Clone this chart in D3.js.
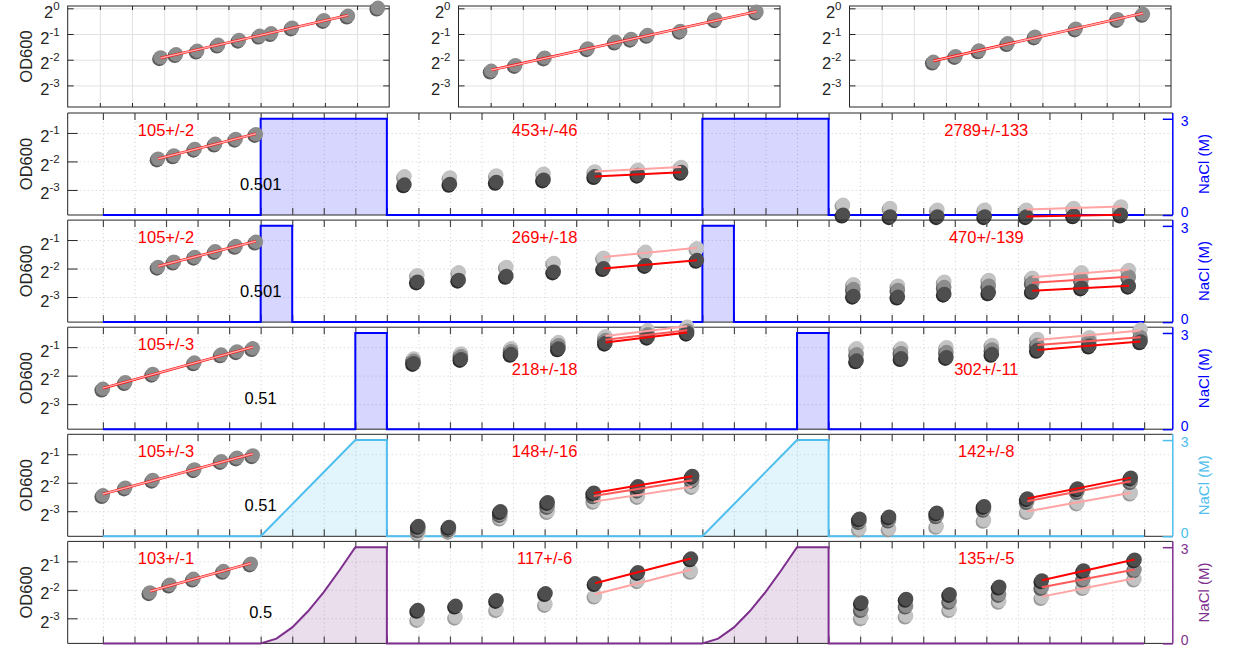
<!DOCTYPE html>
<html><head><meta charset="utf-8">
<script src="https://cdn.jsdelivr.net/npm/d3@7"></script>
<style>
body{margin:0;background:#fff;}
svg{display:block;}
svg text{font-family:"Liberation Sans",Arial,Helvetica,sans-serif;}
</style></head><body>
<svg id="chart" width="1240" height="650"></svg>
<script>
// ================= DATA =================
// Top row: three pre-culture growth curves (time in h, log2 OD600)
const topTimes = [
  [2.89,3.37,4.03,4.68,5.33,5.97,6.33,6.98,7.97,8.72,9.65],
  [1.02,1.77,2.68,4.02,4.88,5.37,5.88,6.90,7.99,9.27],
  [2.61,3.30,4.03,4.92,5.77,7.04,8.34,9.13]
];
const topLog2OD = [
  [-1.91,-1.79,-1.65,-1.42,-1.23,-1.07,-0.97,-0.75,-0.46,-0.29,0.02],
  [-2.43,-2.21,-1.92,-1.56,-1.30,-1.19,-1.04,-0.88,-0.43,-0.13],
  [-2.08,-1.86,-1.64,-1.36,-1.10,-0.79,-0.42,-0.22]
];
const topFitCount = [10,10,8];

// Five experiment rows: pre-stress segment
const preTimes = [
  [1.75,2.25,2.91,3.56,4.21,4.85],
  [1.75,2.25,2.91,3.56,4.21,4.85],
  [0.00,0.71,1.58,2.90,3.75,4.25,4.75],
  [0.00,0.71,1.58,2.90,3.75,4.25,4.75],
  [1.49,2.12,2.87,3.82,4.69]
];
const preLog2OD = [
  [-1.90,-1.79,-1.56,-1.38,-1.21,-1.04],
  [-1.94,-1.76,-1.59,-1.39,-1.21,-1.06],
  [-2.46,-2.23,-1.94,-1.54,-1.26,-1.15,-1.04],
  [-2.44,-2.17,-1.90,-1.53,-1.24,-1.12,-1.04],
  [-2.09,-1.82,-1.61,-1.34,-1.08]
];
// after first stress
const midTimes = [
  [9.56,11.00,12.47,13.97,15.59,16.96,18.33],
  [9.97,11.28,12.79,14.29,15.87,17.20,18.83],
  [9.85,11.35,12.94,14.44,15.93,17.27,18.52],
  [10.00,10.97,12.60,14.10,15.56,16.96,18.68],
  [9.98,11.18,12.48,14.03,15.60,16.96,18.64]
];
const midDark = [
  [-2.81,-2.79,-2.72,-2.64,-2.52,-2.47,-2.37],
  [-2.46,-2.40,-2.26,-2.11,-1.99,-1.88,-1.70],
  [-1.56,-1.42,-1.24,-1.05,-0.85,-0.64,-0.50],
  [-3.52,-3.55,-3.00,-2.68,-2.35,-2.12,-1.76],
  [-2.71,-2.56,-2.36,-2.12,-1.77,-1.38,-0.90]
];
const midMid = [
  null,
  null,
  [-1.48,-1.32,-1.14,-0.93,-0.75,-0.55,-0.42],
  [-3.64,-3.62,-3.10,-2.82,-2.45,-2.25,-1.90],
  null
];
const midLight = [
  [-2.52,-2.56,-2.49,-2.43,-2.35,-2.29,-2.19],
  [-2.23,-2.13,-1.94,-1.80,-1.62,-1.41,-1.29],
  [-1.40,-1.22,-1.04,-0.82,-0.62,-0.40,-0.28],
  [-3.76,-3.70,-3.23,-3.00,-2.64,-2.47,-2.12],
  [-3.03,-2.95,-2.68,-2.50,-2.21,-1.67,-1.34]
];
// after second stress
const lateTimes = [
  [23.46,24.95,26.45,27.95,29.27,30.77,32.27],
  [23.79,25.20,26.67,28.08,29.46,31.02,32.52],
  [23.89,25.30,26.74,28.18,29.62,31.27,32.89],
  [23.98,24.92,26.43,27.93,29.30,30.89,32.58],
  [24.04,25.46,26.84,28.41,29.76,31.08,32.70]
];
const lateDark = [
  [-3.87,-3.93,-3.93,-3.93,-3.93,-3.90,-3.87],
  [-2.96,-2.99,-2.89,-2.84,-2.79,-2.67,-2.61],
  [-1.47,-1.39,-1.35,-1.24,-1.10,-0.95,-0.80],
  [-3.26,-3.19,-3.05,-2.82,-2.55,-2.20,-1.82],
  [-2.44,-2.32,-2.15,-1.89,-1.67,-1.32,-0.94]
];
const lateMid = [
  null,
  [-2.72,-2.75,-2.65,-2.60,-2.50,-2.40,-2.29],
  [-1.25,-1.20,-1.17,-1.08,-0.92,-0.80,-0.65],
  [-3.35,-3.30,-3.15,-2.92,-2.65,-2.30,-1.95],
  [-2.68,-2.56,-2.39,-2.15,-1.91,-1.62,-1.29]
];
const lateLight = [
  [-3.52,-3.63,-3.69,-3.69,-3.69,-3.63,-3.58],
  [-2.55,-2.60,-2.46,-2.40,-2.32,-2.13,-2.05],
  [-1.04,-1.04,-1.00,-0.92,-0.71,-0.65,-0.38],
  [-3.61,-3.61,-3.52,-3.31,-3.00,-2.70,-2.35],
  [-2.97,-2.91,-2.68,-2.39,-2.26,-1.91,-1.61]
];
// NaCl profiles (time h, concentration M)
const naclTimes = [
  [0,5,5,9,9,19,19,23,23,33],
  [0,5,5,6,6,19,19,20,20,33],
  [0,8,8,9,9,22,22,23,23,33],
  [0,5,8,9,9,19,22,23,23,33],
  [0,5,5.5,6,6.5,7,7.5,8,9,9,19,19.5,20,20.5,21,21.5,22,23,23,33]
];
const naclValues = [
  [0,0,3,3,0,0,3,3,0,0],
  [0,0,3,3,0,0,3,3,0,0],
  [0,0,3,3,0,0,3,3,0,0],
  [0,0,3,3,0,0,3,3,0,0],
  [0,0,0.15,0.5,1.0,1.6,2.28,3,3,0,0,0.15,0.5,1.0,1.6,2.28,3,3,0,0]
];
const rateLabels = [
  ["105+/-2","453+/-46","2789+/-133"],
  ["105+/-2","269+/-18","470+/-139"],
  ["105+/-3","218+/-18","302+/-11"],
  ["105+/-3","148+/-16","142+/-8"],
  ["103+/-1","117+/-6","135+/-5"]
];
const ratioLabels = ["0.501","0.501","0.51","0.51","0.5"];
const topYTicks = [0,-1,-2,-3];
const rowYTicks = [-1,-2,-3];
const naclTicks = [0,3];

// ================= STYLE / LAYOUT =================
const INK = '#262626';
const naclColor = ['#0000ff','#0000ff','#0000ff','#4dbeee','#7e2f8e'];
const naclFillOpacity = 0.16;
const labelT = [2, 14, 28];
const labelDy = [[17,17,17],[17,17,17],[17,42,42],[17,17,17],[17,17,17]];
const repStyle = {
  light: {fill:'#c3c3c3', shade:'#9b9b9b', line:'#ffa3a3'},
  mid:   {fill:'#8c8c8c', shade:'#5c5c5c', line:'#ff5a5a'},
  dark:  {fill:'#4e4e4e', shade:'#2c2c2c', line:'#ff0000'}
};
const R_MARK = 7.2;

const svg = d3.select('#chart');

function tickAxis(g, gen, tx, ty, color, w) {
  g.append('g').attr('transform', `translate(${tx},${ty})`).call(gen)
    .call(s => {
      s.select('.domain').remove();
      s.selectAll('text').remove();
      s.selectAll('line').attr('stroke', color).attr('stroke-width', w || 1);
    });
}
function log2Label(g, xr, yPix, exp) {
  const t = g.append('text').attr('x', xr).attr('y', yPix + 9.5)
    .attr('text-anchor', 'end').attr('font-size', 16.5).attr('fill', INK);
  t.append('tspan').text('2');
  t.append('tspan').attr('dy', -8).attr('font-size', 11.5).text(exp);
}
function markers(g, pts, st) {
  g.append('g').selectAll('circle').data(pts).join('circle')
    .attr('cx', d => d[0] - 1.3).attr('cy', d => d[1] + 1.6).attr('r', R_MARK).attr('fill', st.shade);
  g.append('g').selectAll('circle').data(pts).join('circle')
    .attr('cx', d => d[0]).attr('cy', d => d[1]).attr('r', R_MARK).attr('fill', st.fill);
}
function fitLine(ts, vs) {
  const mt = d3.mean(ts), mv = d3.mean(vs);
  let sxy = 0, sxx = 0;
  ts.forEach((t, i) => { sxy += (t - mt) * (vs[i] - mv); sxx += (t - mt) * (t - mt); });
  const b = sxy / sxx, a = mv - b * mt;
  return [[ts[0], a + b * ts[0]], [ts[ts.length - 1], a + b * ts[ts.length - 1]]];
}
function drawFit(g, x, y, seg, color, w) {
  g.append('path').datum(seg)
    .attr('d', d3.line().x(d => x(d[0])).y(d => y(d[1])))
    .attr('stroke', color).attr('stroke-width', w).attr('fill', 'none');
}

// ================= TOP ROW =================
const topLefts = [67.7, 458.5, 849.5], topW = 321.5, topT = 6, topB = 107;
svg.append('text').attr('transform', `translate(26,${(topT + topB) / 2}) rotate(-90)`)
  .attr('text-anchor', 'middle').attr('dominant-baseline', 'central')
  .attr('font-size', 16.5).attr('fill', INK).text('OD600');
topTimes.forEach((ts, p) => {
  const L = topLefts[p], R = L + topW;
  const x = d3.scaleLinear().domain([0, 10]).range([L, R]);
  const y = d3.scaleLinear().domain([-3.84, 0.09]).range([topB, topT]);
  const g = svg.append('g');
  // grid
  g.append('g').attr('transform', `translate(0,${topB})`)
    .call(d3.axisBottom(x).tickValues(d3.range(1, 10)).tickSize(-(topB - topT)).tickFormat(''))
    .call(s => { s.select('.domain').remove(); s.selectAll('line').attr('stroke', '#e2e2e2'); });
  g.append('g').attr('transform', `translate(${L},0)`)
    .call(d3.axisLeft(y).tickValues(topYTicks).tickSize(-topW).tickFormat(''))
    .call(s => { s.select('.domain').remove(); s.selectAll('line').attr('stroke', '#e2e2e2'); });
  g.append('rect').attr('x', L).attr('y', topT).attr('width', topW).attr('height', topB - topT)
    .attr('fill', 'none').attr('stroke', INK);
  tickAxis(g, d3.axisTop(x).tickValues(d3.range(1, 10)).tickSize(4), 0, topB, INK);
  tickAxis(g, d3.axisBottom(x).tickValues(d3.range(1, 10)).tickSize(4), 0, topT, INK);
  tickAxis(g, d3.axisRight(y).tickValues(topYTicks).tickSize(6), L, 0, INK);
  tickAxis(g, d3.axisLeft(y).tickValues(topYTicks).tickSize(6), R, 0, INK);
  topYTicks.forEach(v => log2Label(g, L - 8, y(v), String(v)));
  const pts = ts.map((t, i) => [x(t), y(topLog2OD[p][i])]);
  markers(g, pts, repStyle.mid);
  const n = topFitCount[p];
  const f = fitLine(ts.slice(0, n), topLog2OD[p].slice(0, n));
  drawFit(g, x, y, f, '#ff0000', 2.6);
  drawFit(g, x, y, f, '#ffaaaa', 1.5);
});

// ================= EXPERIMENT ROWS =================
const bigL = 67.7, bigR = 1172.8, rowH = 102;
const x = d3.scaleLinear().domain([-1.116, 33.91]).range([bigL, bigR]);
const hourTicks = d3.range(0, 34);

preTimes.forEach((_, r) => {
  const T = 113 + r * 107.1, B = T + rowH;
  const y = d3.scaleLinear().domain([-3.88, -0.30]).range([B, T]);
  const yN = d3.scaleLinear().domain([0, 3.18]).range([B, T]);
  const col = naclColor[r];
  const g = svg.append('g');

  // dotted grid
  g.append('g').attr('transform', `translate(0,${B})`)
    .call(d3.axisBottom(x).tickValues(hourTicks).tickSize(-rowH).tickFormat(''))
    .call(s => { s.select('.domain').remove(); s.selectAll('line').attr('stroke', '#cfcfcf').attr('stroke-dasharray', '1,3'); });
  g.append('g').attr('transform', `translate(${bigL},0)`)
    .call(d3.axisLeft(y).tickValues(rowYTicks).tickSize(-(bigR - bigL)).tickFormat(''))
    .call(s => { s.select('.domain').remove(); s.selectAll('line').attr('stroke', '#cfcfcf').attr('stroke-dasharray', '1,3'); });

  // NaCl profile
  const prof = naclTimes[r].map((t, i) => [t, naclValues[r][i]]);
  g.append('path').datum(prof)
    .attr('d', d3.area().x(d => x(d[0])).y0(yN(0)).y1(d => yN(d[1])))
    .attr('fill', col).attr('fill-opacity', naclFillOpacity);

  // frame
  g.append('line').attr('x1', bigL).attr('x2', bigR).attr('y1', T).attr('y2', T).attr('stroke', INK);
  g.append('line').attr('x1', bigL).attr('x2', bigR).attr('y1', B).attr('y2', B).attr('stroke', INK);
  g.append('line').attr('x1', bigL).attr('x2', bigL).attr('y1', T).attr('y2', B).attr('stroke', INK);
  tickAxis(g, d3.axisTop(x).tickValues(hourTicks).tickSize(7), 0, B, '#4a4a4a', 1.2);
  tickAxis(g, d3.axisBottom(x).tickValues(hourTicks).tickSize(7), 0, T, '#4a4a4a', 1.2);
  tickAxis(g, d3.axisRight(y).tickValues(rowYTicks).tickSize(10), bigL, 0, INK);
  rowYTicks.forEach(v => log2Label(g, bigL - 8, y(v), String(v)));

  g.append('path').datum(prof)
    .attr('d', d3.line().x(d => x(d[0])).y(d => yN(d[1])))
    .attr('fill', 'none').attr('stroke', col).attr('stroke-width', 2);

  // right NaCl axis
  g.append('line').attr('x1', bigR).attr('x2', bigR).attr('y1', T).attr('y2', B).attr('stroke', col).attr('stroke-width', 1.5);
  tickAxis(g, d3.axisLeft(yN).tickValues(naclTicks).tickSize(10), bigR, 0, col, 1.5);
  naclTicks.forEach(v => g.append('text').attr('x', bigR + 8).attr('y', yN(v) + (v === 0 ? -3 : 2))
    .attr('dominant-baseline', 'central').attr('font-size', 14).attr('fill', col).text(v));
  g.append('text').attr('transform', `translate(${bigR + 31},${(T + B) / 2}) rotate(-90)`)
    .attr('text-anchor', 'middle').attr('dominant-baseline', 'central')
    .attr('font-size', 15).attr('fill', col).text('NaCl (M)');
  svg.append('text').attr('transform', `translate(26,${(T + B) / 2}) rotate(-90)`)
    .attr('text-anchor', 'middle').attr('dominant-baseline', 'central')
    .attr('font-size', 16.5).attr('fill', INK).text('OD600');

  // markers
  const mg = g.append('g');
  markers(mg, preTimes[r].map((t, i) => [x(t), y(preLog2OD[r][i])]), repStyle.mid);
  const segs = [
    {ts: midTimes[r], reps: {light: midLight[r], mid: midMid[r], dark: midDark[r]}},
    {ts: lateTimes[r], reps: {light: lateLight[r], mid: lateMid[r], dark: lateDark[r]}}
  ];
  segs.forEach(sg => {
    ['light', 'mid', 'dark'].forEach(k => {
      const vs = sg.reps[k];
      if (!vs) return;
      markers(mg, sg.ts.map((t, i) => [x(t), y(vs[i])]), repStyle[k]);
    });
  });
  // fits
  const pf = fitLine(preTimes[r], preLog2OD[r]);
  drawFit(mg, x, y, pf, '#ff0000', 2.6);
  drawFit(mg, x, y, pf, '#ffaaaa', 1.5);
  segs.forEach(sg => {
    const n = sg.ts.length;
    ['light', 'mid', 'dark'].forEach(k => {
      const vs = sg.reps[k];
      if (!vs) return;
      drawFit(mg, x, y, fitLine(sg.ts.slice(n - 3), vs.slice(n - 3)), repStyle[k].line, 2);
    });
  });

  // labels
  rateLabels[r].forEach((lab, k) => {
    g.append('text').attr('x', x(labelT[k])).attr('y', T + labelDy[r][k])
      .attr('text-anchor', 'middle').attr('dominant-baseline', 'central')
      .attr('font-size', 16.5).attr('fill', '#ff0000').text(lab);
  });
  g.append('text').attr('x', x(5)).attr('y', T + 71)
    .attr('text-anchor', 'middle').attr('dominant-baseline', 'central')
    .attr('font-size', 16.5).attr('fill', '#000').text(ratioLabels[r]);
});
</script>
</body></html>
